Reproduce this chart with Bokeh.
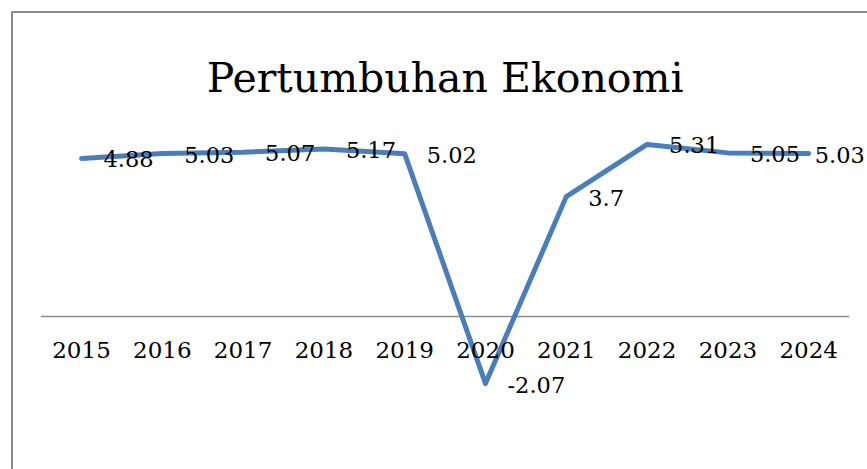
from bokeh.plotting import figure
from bokeh.models import ColumnDataSource, LabelSet, Label, BoxAnnotation, Range1d
from bokeh.core.properties import value
from bokeh.embed import file_html
from bokeh.resources import INLINE

years = ["2015", "2016", "2017", "2018", "2019", "2020", "2021", "2022", "2023", "2024"]
growth = [4.88, 5.03, 5.07, 5.17, 5.02, -2.07, 3.7, 5.31, 5.05, 5.03]
growth_labels = ["4.88", "5.03", "5.07", "5.17", "5.02", "-2.07", "3.7", "5.31", "5.05", "5.03"]
title_text = "Pertumbuhan Ekonomi"

FONT = "DejaVu Serif"
LINE_COLOR = "#4a7ebb"
GRAY = "#898989"

# label placement: right of each point; the last one is nudged inwards
label_dx = [22] * (len(years) - 1) + [6]

pos = list(range(len(years)))           # category slots 0..n-1
src = ColumnDataSource(data=dict(x=pos, year=years, value=growth, label=growth_labels,
                                 dx=label_dx, base=[0] * len(years)))

p = figure(x_range=Range1d(-1.0025, 9.7277), y_range=Range1d(-4.7222, 9.7531),
           width=867, height=469, output_backend="svg", toolbar_location=None,
           x_axis_location=None, y_axis_location=None,
           min_border_left=0, min_border_right=0, min_border_top=0, min_border_bottom=0)
p.outline_line_color = None
p.grid.visible = False
p.background_fill_color = "white"
p.border_fill_color = "white"

# chart-area frame (only its left and top edges are inside the picture)
p.add_layout(BoxAnnotation(left=-0.8601, top=9.398, right=pos[-1] + 3, bottom=-8,
                           fill_color=None, fill_alpha=0,
                           line_color=GRAY, line_alpha=1.0, line_width=2))

# category axis line at y = 0, spanning the category slots
axis_src = ColumnDataSource(data=dict(x0=[pos[0] - 0.5], x1=[pos[-1] + 0.5], y=[0]))
p.segment(x0="x0", y0="y", x1="x1", y1="y", source=axis_src,
          line_color="#8c8c8c", line_width=1.5)

# value labels (drawn under the line, as in the reference)
p.add_layout(LabelSet(x="x", y="value", text="label", source=src,
                      x_offset="dx", y_offset=-1, text_align="left", text_baseline="middle",
                      text_font=value(FONT), text_font_size=value("22.5px"),
                      text_color=value("black")))

# category tick labels below the axis line
p.add_layout(LabelSet(x="x", y="base", text="year", source=src,
                      y_offset=-33.5, text_align="center", text_baseline="middle",
                      text_font=value(FONT), text_font_size=value("23px"),
                      text_color=value("black")))

p.line("x", "value", source=src, line_color=LINE_COLOR, line_width=5,
       line_join="round", line_cap="round")

p.add_layout(Label(x=sum(pos) / len(pos), y=7.346, text=title_text,
                   text_align="center", text_baseline="alphabetic",
                   text_font=FONT, text_font_size="41px", text_color="black"))

open("out.html", "w").write(file_html(p, INLINE))
